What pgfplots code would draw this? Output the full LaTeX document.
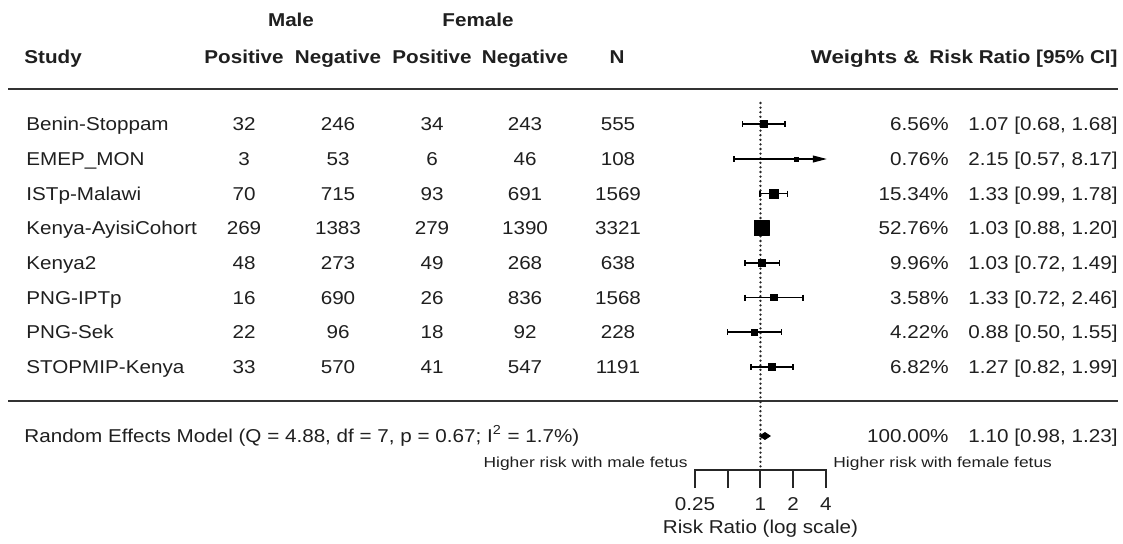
\documentclass[border=0pt]{standalone}
\usepackage{fontspec}
\setmainfont{Liberation Sans}[FakeStretch=1.11]
\newfontfamily\smallfont{Liberation Sans}[FakeStretch=1.2]
\newfontfamily\hdrfont{Liberation Sans}[FakeStretch=1.11]
\newfontfamily\wfont{Liberation Sans}[FakeStretch=1.2]
\usepackage{pgfplots}
\pgfplotsset{compat=1.18}
\usetikzlibrary{arrows.meta}

\newcommand\row[9]{%
 \node[txt,anchor=base west] at (axis cs:26,#1) {#2};
 \node[txt,anchor=base] at (axis cs:244,#1) {#3};
 \node[txt,anchor=base] at (axis cs:338,#1) {#4};
 \node[txt,anchor=base] at (axis cs:432,#1) {#5};
 \node[txt,anchor=base] at (axis cs:525,#1) {#6};
 \node[txt,anchor=base] at (axis cs:618,#1) {#7};
 \node[txt,anchor=base east] at (axis cs:949,#1) {#8};
 \node[txt,anchor=base east] at (axis cs:1118,#1) {#9};
}

\pgfplotsset{base/.style={scale only axis, width=561.5pt, height=271.5pt,
  ymin=0, ymax=543, y dir=reverse, hide axis, clip=false,
  at={(0,0)}, anchor=south west}}

\begin{document}
\begin{tikzpicture}[
  txt/.style={inner sep=0pt, yshift=-3.3pt, font=\fontsize{9.3}{11}\selectfont, text=black!88},
  hdr/.style={inner sep=0pt, yshift=-3.3pt, font=\hdrfont\fontsize{9.3}{11}\selectfont\bfseries, text=black!88},
  sml/.style={inner sep=0pt, yshift=-2.6pt, font=\smallfont\fontsize{7.25}{9}\selectfont, text=black!88}]
\path (0,0) rectangle (561.5pt,271.5pt);

% ---------- text layer (pixel coordinates) ----------
\begin{axis}[base, xmin=0, xmax=1123]
 \addplot[line width=1pt, black!80] coordinates {(8,89) (1118,89)};
 \addplot[line width=1pt, black!80] coordinates {(8,401) (1118,401)};

 \node[hdr,anchor=base] at (axis cs:291,20) {Male};
 \node[hdr,anchor=base] at (axis cs:478,20) {Female};
 \node[hdr,anchor=base west] at (axis cs:24,57) {Study};
 \node[hdr,anchor=base] at (axis cs:244,57) {Positive};
 \node[hdr,anchor=base] at (axis cs:338,57) {Negative};
 \node[hdr,anchor=base] at (axis cs:432,57) {Positive};
 \node[hdr,anchor=base] at (axis cs:525,57) {Negative};
 \node[hdr,anchor=base] at (axis cs:617,57) {N};
 \node[hdr,anchor=base east,font=\wfont\fontsize{9.3}{11}\selectfont\bfseries] at (axis cs:920,57) {Weights \&};
 \node[hdr,anchor=base east] at (axis cs:1118,57) {Risk Ratio [95\% CI]};

 \row{124}{Benin-Stoppam}{32}{246}{34}{243}{555}{6.56\%}{1.07 [0.68, 1.68]}
 \row{159}{EMEP\_MON}{3}{53}{6}{46}{108}{0.76\%}{2.15 [0.57, 8.17]}
 \row{193.5}{ISTp-Malawi}{70}{715}{93}{691}{1569}{15.34\%}{1.33 [0.99, 1.78]}
 \row{228}{Kenya-AyisiCohort}{269}{1383}{279}{1390}{3321}{52.76\%}{1.03 [0.88, 1.20]}
 \row{263}{Kenya2}{48}{273}{49}{268}{638}{9.96\%}{1.03 [0.72, 1.49]}
 \row{297.5}{PNG-IPTp}{16}{690}{26}{836}{1568}{3.58\%}{1.33 [0.72, 2.46]}
 \row{332}{PNG-Sek}{22}{96}{18}{92}{228}{4.22\%}{0.88 [0.50, 1.55]}
 \row{367}{STOPMIP-Kenya}{33}{570}{41}{547}{1191}{6.82\%}{1.27 [0.82, 1.99]}

 \node[txt,anchor=base west] at (axis cs:24,436) {Random Effects Model (Q = 4.88, df = 7, p = 0.67; I\textsuperscript{2} = 1.7\%)};
 \node[txt,anchor=base east] at (axis cs:949,436) {100.00\%};
 \node[txt,anchor=base east] at (axis cs:1118,436) {1.10 [0.98, 1.23]};
 \node[sml,anchor=base east] at (axis cs:688,462) {Higher risk with male fetus};
 \node[sml,anchor=base west] at (axis cs:833,462) {Higher risk with female fetus};
\end{axis}

% ---------- forest layer (log2 risk ratio) ----------
\begin{axis}[base, xmode=log, log basis x=2, xmin=1.0235e-7, xmax=2150]
 % reference line at RR = 1
 \addplot[line width=1.3pt, line cap=round, dash pattern=on 0pt off 2.3pt, black!85] coordinates {(1,103) (1,470)};

 % confidence intervals
 \pgfplotsset{ci/.style={line width=0.65pt, black, mark=|, mark size=1.5pt, mark options={solid}}}
 \addplot[ci] coordinates {(0.68,124) (1.68,124)};
 \addplot[line width=0.65pt, black, -{Triangle[length=7pt,width=3.4pt]}] coordinates {(0.57,159) (4.08,159)};
 \addplot[only marks, mark=|, mark size=1.5pt, line width=0.65pt, black] coordinates {(0.57,159)};
 \addplot[ci] coordinates {(0.99,193.5) (1.78,193.5)};
 \addplot[ci] coordinates {(0.88,228) (1.20,228)};
 \addplot[ci] coordinates {(0.72,263) (1.49,263)};
 \addplot[ci] coordinates {(0.72,297.5) (2.46,297.5)};
 \addplot[ci] coordinates {(0.50,332) (1.55,332)};
 \addplot[ci] coordinates {(0.82,367) (1.99,367)};

 % point estimates (size by weight)
 \addplot[only marks, mark=square*, black, mark size=1.8pt] coordinates {(1.07,124)};
 \addplot[only marks, mark=square*, black, mark size=1.05pt] coordinates {(2.15,159)};
 \addplot[only marks, mark=square*, black, mark size=2.3pt] coordinates {(1.33,193.5)};
 \addplot[only marks, mark=square*, black, mark size=3.8pt, mark options={line join=round, line width=0.6pt}] coordinates {(1.03,228)};
 \addplot[only marks, mark=square*, black, mark size=1.8pt] coordinates {(1.03,263)};
 \addplot[only marks, mark=square*, black, mark size=1.6pt] coordinates {(1.33,297.5)};
 \addplot[only marks, mark=square*, black, mark size=1.45pt] coordinates {(0.88,332)};
 \addplot[only marks, mark=square*, black, mark size=1.9pt] coordinates {(1.27,367)};

 % summary diamond
 \addplot[fill=black, draw=black, line width=0.4pt] coordinates {(0.98,436) (1.10,432.5) (1.23,436) (1.10,439.5)} -- cycle;

 % x axis
 \addplot[line width=1pt, black!85] coordinates {(0.25,488) (0.25,470) (4,470) (4,488)};
 \addplot[line width=1pt, black!85] coordinates {(0.5,470) (0.5,488)};
 \addplot[line width=1pt, black!85] coordinates {(1,470) (1,488)};
 \addplot[line width=1pt, black!85] coordinates {(2,470) (2,488)};
 \node[txt,anchor=base] at (axis cs:0.25,504) {0.25};
 \node[txt,anchor=base] at (axis cs:1,504) {1};
 \node[txt,anchor=base] at (axis cs:2,504) {2};
 \node[txt,anchor=base] at (axis cs:4,504) {4};
 \node[txt,anchor=base] at (axis cs:1,527) {Risk Ratio (log scale)};
\end{axis}
\end{tikzpicture}
\end{document}
